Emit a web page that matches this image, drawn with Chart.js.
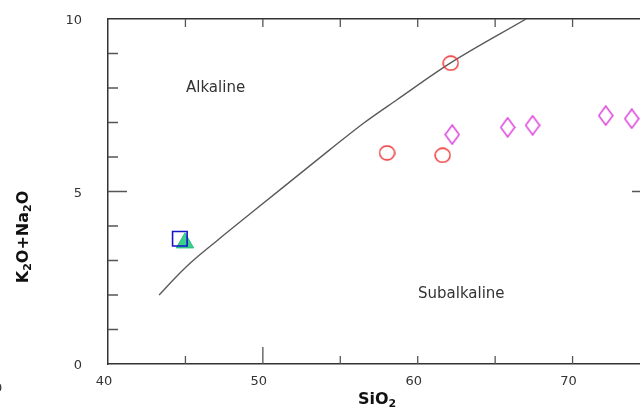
<!DOCTYPE html>
<html><head><meta charset="utf-8">
<script src="https://cdn.jsdelivr.net/npm/chart.js@4"></script>
<style>
html,body{margin:0;padding:0;background:#fff;overflow:hidden;width:640px;height:408px;}
#wrap{position:relative;width:640px;height:408px;overflow:hidden;background:#fff;}
#c{position:absolute;left:0;top:0;}
.lbl{position:absolute;font-family:"DejaVu Sans",sans-serif;color:#333;white-space:nowrap;line-height:1;}
.ttl{position:absolute;font-family:"DejaVu Sans",sans-serif;font-weight:bold;color:#111;white-space:nowrap;line-height:1;font-size:16px;}
.ttl sub{font-size:11px;vertical-align:-3px;line-height:0;}
</style></head><body>
<div id="wrap">
<canvas id="c" width="700" height="408"></canvas>
<div class="lbl" style="left:186px;top:80px;font-size:15px">Alkaline</div>
<div class="lbl" style="left:418px;top:286px;font-size:15px">Subalkaline</div>
<div class="ttl" style="left:358px;top:391px;">SiO<sub>2</sub></div>
<div class="ttl" id="ytitle" style="left:23px;top:237px;transform:translate(-50%,-50%) rotate(-90deg);">K<sub>2</sub>O+Na<sub>2</sub>O</div>
<div class="lbl" style="left:-6px;top:381px;font-size:13px">0</div>
</div>
<script>
// ---- data ----
const xTickValues = [40, 50, 60, 70];
const yTickValues = [0, 5, 10];
const xMinorTicks = [45, 50, 55, 60, 65, 70];
const yMinorTicks = [1, 2, 3, 4, 5, 6, 7, 8, 9];
const boundaryX = [43.3, 44.3, 45.3, 47.0, 49.2, 51.3, 54.35, 56.5, 58.66, 62.1, 67.0];
const boundaryY = [2.0, 2.48, 2.92, 3.56, 4.36, 5.12, 6.22, 6.98, 7.66, 8.72, 10.0];
const triangleX = [44.97];
const triangleY = [3.51];
const squareX = [44.64];
const squareY = [3.63];
const circleX = [62.13, 58.02, 61.61];
const circleY = [8.72, 6.12, 6.05];
const diamondX = [62.23, 65.81, 67.42, 72.14, 73.82];
const diamondY = [6.65, 6.86, 6.92, 7.20, 7.11];

const pts = (xs, ys) => xs.map((x, i) => ({x, y: ys[i]}));

function makeDiamond(w, h, color) {
  const c = document.createElement('canvas');
  c.width = w + 2; c.height = h + 2;
  const g = c.getContext('2d');
  g.strokeStyle = color; g.lineWidth = 1.5;
  g.beginPath();
  g.moveTo(c.width / 2, 1); g.lineTo(c.width - 1, c.height / 2);
  g.lineTo(c.width / 2, c.height - 1); g.lineTo(1, c.height / 2); g.closePath();
  g.stroke();
  return c;
}
function makeEllipse(w, h, color) {
  const c = document.createElement('canvas');
  c.width = w + 2; c.height = h + 2;
  const g = c.getContext('2d');
  g.strokeStyle = color; g.lineWidth = 1.4;
  g.beginPath();
  g.ellipse(c.width / 2, c.height / 2, w / 2, h / 2, 0, 0, Math.PI * 2);
  g.stroke();
  return c;
}
const diamondImg = makeDiamond(14, 19, '#dd44dd');
const ellipseImg = makeEllipse(15, 14, '#ee3333');

const innerTicks = {
  id: 'innerTicks',
  afterDraw(chart) {
    const {ctx, chartArea: a, scales: {x, y}} = chart;
    ctx.save();
    ctx.strokeStyle = '#555';
    ctx.lineWidth = 1.3;
    ctx.beginPath();
    xMinorTicks.forEach(v => {
      const px = x.getPixelForValue(v);
      const lb = v === 50 ? 17 : 8;
      ctx.moveTo(px, a.bottom); ctx.lineTo(px, a.bottom - lb);
      ctx.moveTo(px, a.top); ctx.lineTo(px, a.top + 8);
    });
    yMinorTicks.forEach(v => {
      const py = y.getPixelForValue(v);
      const l = v === 5 ? 19 : 10;
      ctx.moveTo(a.left, py); ctx.lineTo(a.left + l, py);
      ctx.moveTo(a.right, py); ctx.lineTo(a.right - (v === 5 ? 18 : 9), py);
    });
    ctx.stroke();
    ctx.restore();
  }
};

const noPad = s => { s.paddingTop = 0; s.paddingBottom = 0; s.paddingLeft = 0; s.paddingRight = 0; };
const tickFont = {family: 'DejaVu Sans', size: 13};
const border = {display: true, color: '#333', width: 1.5};

new Chart(document.getElementById('c'), {
  type: 'scatter',
  data: {
    datasets: [
      {type: 'line', data: pts(boundaryX, boundaryY), borderColor: '#5a5a5a', borderWidth: 1.4,
       pointRadius: 0, fill: false, cubicInterpolationMode: 'monotone', order: 5},
      {data: pts(triangleX, triangleY), pointStyle: 'triangle', pointRadius: 10,
       backgroundColor: 'rgba(50,205,135,0.95)', borderColor: 'rgba(40,190,120,1)', borderWidth: 1, order: 4},
      {data: pts(squareX, squareY), pointStyle: 'rect', pointRadius: 10.3,
       backgroundColor: 'rgba(0,0,0,0)', borderColor: '#1515cc', borderWidth: 1.6, order: 3},
      {data: pts(circleX, circleY), pointStyle: ellipseImg, order: 2},
      {data: pts(diamondX, diamondY), pointStyle: diamondImg, order: 1}
    ]
  },
  options: {
    responsive: false,
    animation: false,
    devicePixelRatio: 1,
    layout: {padding: 0},
    plugins: {legend: {display: false}, tooltip: {enabled: false}},
    scales: {
      x: {
        type: 'linear', position: 'bottom', min: 40, max: 75,
        grid: {display: false}, border,
        afterFit: s => { s.height = 44; noPad(s); },
        afterBuildTicks: s => { s.ticks = xTickValues.map(v => ({value: v})); },
        ticks: {font: tickFont, color: '#333', padding: 2, labelOffset: -4, maxRotation: 0}
      },
      x2: {
        type: 'linear', position: 'top', min: 40, max: 75,
        grid: {display: false}, border, ticks: {display: false},
        afterFit: s => { s.height = 19; noPad(s); }
      },
      y: {
        type: 'linear', position: 'left', min: 0, max: 10,
        grid: {display: false}, border,
        afterFit: s => { s.width = 108; noPad(s); },
        afterBuildTicks: s => { s.ticks = yTickValues.map(v => ({value: v})); },
        ticks: {font: tickFont, color: '#333', padding: 18, labelOffset: 2}
      },
      y2: {
        type: 'linear', position: 'right', min: 0, max: 10,
        grid: {display: false}, border, ticks: {display: false},
        afterFit: s => { s.width = 50; noPad(s); }
      }
    }
  },
  plugins: [innerTicks]
});
</script>
</body></html>
